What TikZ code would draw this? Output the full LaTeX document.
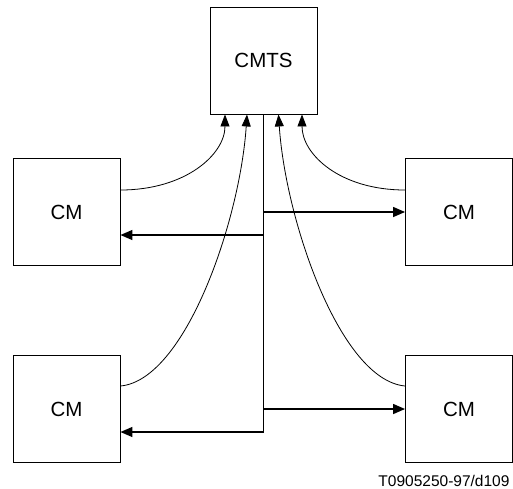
\documentclass[tikz,border=0pt]{standalone}
\usepackage{fontspec}
\setmainfont{Liberation Sans}
\usetikzlibrary{arrows.meta}
\begin{document}
\begin{tikzpicture}[x=1pt, y=-1pt, line join=miter,
    unit/.style={draw, line width=0.9pt, minimum width=107pt, minimum height=107pt,
      inner sep=0pt, font=\fontsize{20.5}{24}\selectfont},
    link/.style={line width=0.8pt, -{Triangle[length=12pt,width=9pt]}},
    trunk/.style={line width=1pt},
    feed/.style={line width=1.4pt, -{Triangle[length=12pt,width=10pt]}}]
  \useasboundingbox (0,0) rectangle (513,488);
  \node[unit] (cmts) at (263.5,60.5) {CMTS};
  \node[unit] (cm1) at (66.5,212) {CM};
  \node[unit] (cm2) at (459,212) {CM};
  \node[unit] (cm3) at (66.5,409) {CM};
  \node[unit] (cm4) at (459,409) {CM};
  \node[anchor=base east, font=\fontsize{15.5}{18}\selectfont] (tag) at (513,486) {T0905250-97/d109};
  \coordinate (t1) at ([yshift=-23pt]cm1.east);
  \coordinate (t3) at ([yshift=-23pt]cm3.east);
  \draw[link] ([yshift=22pt]cm1.east) .. controls +(65,0) and +(0,40) .. ([xshift=-38.5pt]cmts.south);
  \draw[link] ([yshift=23pt]cm3.east) .. controls +(65,-6) and +(-7,106) .. ([xshift=-16.5pt]cmts.south);
  \draw[link] ([yshift=22pt]cm2.west) .. controls +(-65,0) and +(0,40) .. ([xshift=38.5pt]cmts.south);
  \draw[link] ([yshift=23pt]cm4.west) .. controls +(-65,-6) and +(7,106) .. ([xshift=15pt]cmts.south);
  \draw[trunk] (cmts.south) -- (cmts.south |- t3);
  \draw[feed] (cmts.south |- t1) -- (t1);
  \draw[feed] (cmts.south |- cm2.west) -- (cm2.west);
  \draw[feed] (cmts.south |- cm4.west) -- (cm4.west);
  \draw[feed] (cmts.south |- t3) -- (t3);
\end{tikzpicture}
\end{document}
